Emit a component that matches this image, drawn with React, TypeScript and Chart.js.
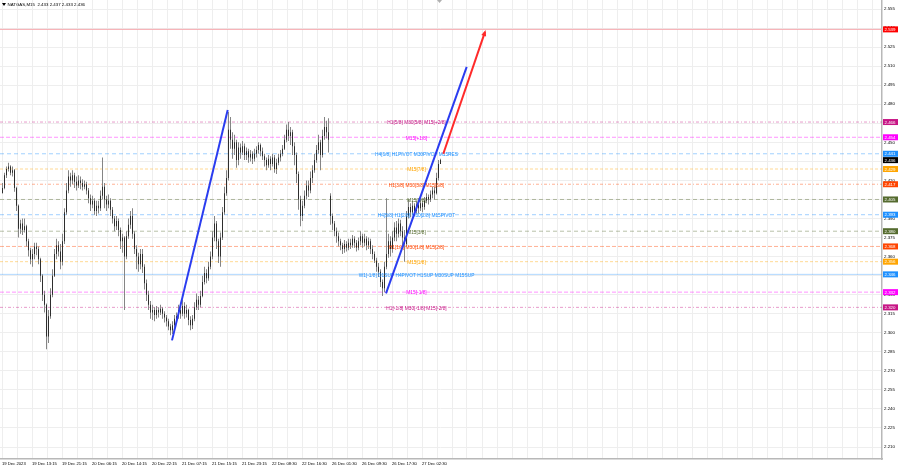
import React, { useEffect, useRef } from 'react';
import { Chart, registerables } from 'chart.js';

Chart.register(...registerables);

// NATGAS M15 candles, oldest first
const opens = [
  2.410, 2.414, 2.424, 2.429, 2.431, 2.426, 2.428, 2.414, 2.400, 2.382,
  2.386, 2.381, 2.384, 2.372, 2.365, 2.358, 2.362, 2.368, 2.366, 2.358,
  2.345, 2.330, 2.322, 2.297, 2.313, 2.330, 2.345, 2.362, 2.369, 2.364,
  2.356, 2.372, 2.395, 2.412, 2.423, 2.420, 2.424, 2.419, 2.416, 2.420,
  2.418, 2.415, 2.417, 2.412, 2.406, 2.401, 2.404, 2.396, 2.400, 2.398,
  2.408, 2.415, 2.405, 2.401, 2.404, 2.397, 2.390, 2.384, 2.388, 2.381,
  2.372, 2.375, 2.360, 2.376, 2.385, 2.392, 2.378, 2.366, 2.360, 2.354,
  2.362, 2.352, 2.339, 2.330, 2.322, 2.316, 2.318, 2.314, 2.318, 2.316,
  2.319, 2.315, 2.312, 2.309, 2.305, 2.302, 2.306, 2.311, 2.313, 2.318,
  2.315, 2.321, 2.315, 2.318, 2.310, 2.306, 2.311, 2.320, 2.326, 2.322,
  2.329, 2.340, 2.347, 2.343, 2.352, 2.360, 2.375, 2.386, 2.372, 2.360,
  2.375, 2.395, 2.410, 2.422, 2.460, 2.452, 2.445, 2.450, 2.436, 2.446,
  2.442, 2.447, 2.440, 2.443, 2.438, 2.441, 2.437, 2.441, 2.444, 2.448,
  2.443, 2.439, 2.436, 2.432, 2.437, 2.433, 2.438, 2.429, 2.434, 2.438,
  2.441, 2.445, 2.452, 2.460, 2.455, 2.458, 2.447, 2.440, 2.425, 2.405,
  2.392, 2.400, 2.408, 2.416, 2.412, 2.422, 2.428, 2.436, 2.444, 2.450,
  2.440, 2.455, 2.462, 2.458, 2.408, 2.392, 2.386, 2.380, 2.376, 2.372,
  2.369, 2.366, 2.370, 2.367, 2.371, 2.369, 2.374, 2.371, 2.367, 2.372,
  2.376, 2.371, 2.374, 2.369, 2.372, 2.366, 2.362, 2.357, 2.352, 2.348,
  2.340, 2.335, 2.352, 2.362, 2.372, 2.366, 2.375, 2.383, 2.378, 2.386,
  2.380, 2.375, 2.370, 2.392, 2.399, 2.395, 2.400, 2.396, 2.401, 2.398,
  2.402, 2.399, 2.404, 2.407, 2.405, 2.409, 2.412, 2.410, 2.422, 2.433,
];
const highs = [
  2.418, 2.426, 2.431, 2.434, 2.432, 2.431, 2.429, 2.415, 2.401, 2.389,
  2.390, 2.390, 2.385, 2.374, 2.367, 2.366, 2.371, 2.371, 2.368, 2.359,
  2.346, 2.333, 2.323, 2.318, 2.335, 2.350, 2.366, 2.374, 2.372, 2.370,
  2.378, 2.398, 2.418, 2.428, 2.426, 2.428, 2.426, 2.423, 2.424, 2.423,
  2.421, 2.420, 2.419, 2.414, 2.409, 2.408, 2.406, 2.404, 2.404, 2.412,
  2.438, 2.418, 2.408, 2.409, 2.406, 2.399, 2.392, 2.392, 2.390, 2.383,
  2.378, 2.376, 2.380, 2.390, 2.396, 2.398, 2.380, 2.369, 2.363, 2.366,
  2.366, 2.354, 2.342, 2.333, 2.325, 2.322, 2.320, 2.321, 2.320, 2.322,
  2.320, 2.317, 2.314, 2.311, 2.307, 2.309, 2.314, 2.316, 2.322, 2.320,
  2.326, 2.324, 2.322, 2.319, 2.313, 2.314, 2.324, 2.331, 2.329, 2.333,
  2.345, 2.352, 2.350, 2.356, 2.364, 2.380, 2.392, 2.388, 2.374, 2.379,
  2.399, 2.415, 2.428, 2.474, 2.470, 2.458, 2.456, 2.452, 2.450, 2.449,
  2.451, 2.449, 2.446, 2.445, 2.444, 2.443, 2.445, 2.447, 2.450, 2.449,
  2.446, 2.441, 2.438, 2.440, 2.439, 2.441, 2.440, 2.437, 2.441, 2.444,
  2.448, 2.456, 2.464, 2.466, 2.462, 2.460, 2.450, 2.442, 2.427, 2.408,
  2.404, 2.412, 2.420, 2.420, 2.427, 2.432, 2.441, 2.448, 2.456, 2.452,
  2.460, 2.470, 2.467, 2.469, 2.410, 2.394, 2.388, 2.383, 2.379, 2.374,
  2.371, 2.373, 2.372, 2.374, 2.374, 2.377, 2.376, 2.373, 2.375, 2.380,
  2.378, 2.378, 2.376, 2.375, 2.374, 2.369, 2.364, 2.359, 2.355, 2.350,
  2.342, 2.356, 2.406, 2.378, 2.376, 2.380, 2.387, 2.388, 2.390, 2.389,
  2.384, 2.381, 2.396, 2.405, 2.402, 2.404, 2.402, 2.404, 2.403, 2.406,
  2.404, 2.407, 2.410, 2.409, 2.412, 2.415, 2.415, 2.426, 2.436, 2.437,
];
const lows = [
  2.410, 2.413, 2.422, 2.427, 2.424, 2.423, 2.411, 2.396, 2.375, 2.378,
  2.377, 2.379, 2.368, 2.360, 2.354, 2.352, 2.358, 2.361, 2.354, 2.340,
  2.325, 2.316, 2.287, 2.292, 2.311, 2.328, 2.344, 2.358, 2.360, 2.350,
  2.353, 2.370, 2.393, 2.410, 2.415, 2.417, 2.414, 2.412, 2.414, 2.413,
  2.412, 2.413, 2.409, 2.402, 2.396, 2.398, 2.393, 2.392, 2.394, 2.396,
  2.405, 2.398, 2.396, 2.398, 2.392, 2.386, 2.380, 2.381, 2.376, 2.366,
  2.363, 2.318, 2.358, 2.374, 2.382, 2.374, 2.362, 2.350, 2.348, 2.350,
  2.347, 2.334, 2.325, 2.318, 2.311, 2.310, 2.309, 2.311, 2.312, 2.314,
  2.311, 2.308, 2.305, 2.302, 2.298, 2.299, 2.304, 2.307, 2.311, 2.311,
  2.313, 2.311, 2.312, 2.306, 2.302, 2.303, 2.309, 2.318, 2.318, 2.320,
  2.328, 2.338, 2.339, 2.341, 2.350, 2.358, 2.372, 2.366, 2.355, 2.352,
  2.373, 2.393, 2.408, 2.420, 2.445, 2.437, 2.440, 2.430, 2.432, 2.437,
  2.440, 2.436, 2.436, 2.434, 2.435, 2.433, 2.435, 2.438, 2.441, 2.439,
  2.436, 2.431, 2.428, 2.430, 2.428, 2.431, 2.426, 2.425, 2.432, 2.435,
  2.439, 2.444, 2.450, 2.451, 2.448, 2.440, 2.432, 2.418, 2.397, 2.384,
  2.388, 2.398, 2.405, 2.407, 2.410, 2.418, 2.426, 2.434, 2.441, 2.428,
  2.438, 2.452, 2.453, 2.442, 2.385, 2.381, 2.376, 2.371, 2.368, 2.365,
  2.362, 2.363, 2.364, 2.365, 2.366, 2.367, 2.367, 2.364, 2.365, 2.369,
  2.367, 2.368, 2.365, 2.366, 2.362, 2.358, 2.355, 2.348, 2.344, 2.336,
  2.329, 2.332, 2.350, 2.359, 2.360, 2.363, 2.372, 2.372, 2.375, 2.376,
  2.369, 2.356, 2.368, 2.390, 2.391, 2.393, 2.392, 2.394, 2.394, 2.396,
  2.395, 2.397, 2.402, 2.401, 2.403, 2.406, 2.405, 2.409, 2.420, 2.433,
];
const closes = [
  2.414, 2.424, 2.429, 2.431, 2.426, 2.428, 2.414, 2.400, 2.382, 2.386,
  2.381, 2.384, 2.372, 2.365, 2.358, 2.362, 2.368, 2.366, 2.358, 2.345,
  2.330, 2.322, 2.297, 2.313, 2.330, 2.345, 2.362, 2.369, 2.364, 2.356,
  2.372, 2.395, 2.412, 2.423, 2.420, 2.424, 2.419, 2.416, 2.420, 2.418,
  2.415, 2.417, 2.412, 2.406, 2.401, 2.404, 2.396, 2.400, 2.398, 2.408,
  2.415, 2.405, 2.401, 2.404, 2.397, 2.390, 2.384, 2.388, 2.381, 2.372,
  2.375, 2.360, 2.376, 2.385, 2.392, 2.378, 2.366, 2.360, 2.354, 2.362,
  2.352, 2.339, 2.330, 2.322, 2.316, 2.318, 2.314, 2.318, 2.316, 2.319,
  2.315, 2.312, 2.309, 2.305, 2.302, 2.306, 2.311, 2.313, 2.318, 2.315,
  2.321, 2.315, 2.318, 2.310, 2.306, 2.311, 2.320, 2.326, 2.322, 2.329,
  2.340, 2.347, 2.343, 2.352, 2.360, 2.375, 2.386, 2.372, 2.360, 2.375,
  2.395, 2.410, 2.422, 2.460, 2.452, 2.445, 2.450, 2.436, 2.446, 2.442,
  2.447, 2.440, 2.443, 2.438, 2.441, 2.437, 2.441, 2.444, 2.448, 2.443,
  2.439, 2.436, 2.432, 2.437, 2.433, 2.438, 2.429, 2.434, 2.438, 2.441,
  2.445, 2.452, 2.460, 2.455, 2.458, 2.447, 2.440, 2.425, 2.405, 2.392,
  2.400, 2.408, 2.416, 2.412, 2.422, 2.428, 2.436, 2.444, 2.450, 2.440,
  2.455, 2.462, 2.458, 2.452, 2.392, 2.386, 2.380, 2.376, 2.372, 2.369,
  2.366, 2.370, 2.367, 2.371, 2.369, 2.374, 2.371, 2.367, 2.372, 2.376,
  2.371, 2.374, 2.369, 2.372, 2.366, 2.362, 2.357, 2.352, 2.348, 2.340,
  2.335, 2.352, 2.362, 2.372, 2.366, 2.375, 2.383, 2.378, 2.386, 2.380,
  2.375, 2.370, 2.392, 2.399, 2.395, 2.400, 2.396, 2.401, 2.398, 2.402,
  2.399, 2.404, 2.407, 2.405, 2.409, 2.412, 2.410, 2.422, 2.433, 2.436,
];

const timeLabels = [
  '19 Dec 2023', '19 Dec 13:15', '19 Dec 21:15', '20 Dec 06:15', '20 Dec 14:15',
  '20 Dec 22:15', '21 Dec 07:15', '21 Dec 15:15', '21 Dec 23:15', '22 Dec 08:30',
  '22 Dec 16:30', '26 Dec 01:30', '26 Dec 09:30', '26 Dec 17:30', '27 Dec 02:30',
];

const priceTicks = [
  2.210, 2.225, 2.240, 2.255, 2.270, 2.285, 2.300, 2.315, 2.330, 2.345, 2.360, 2.375,
  2.390, 2.405, 2.420, 2.435, 2.450, 2.465, 2.480, 2.495, 2.510, 2.525, 2.540, 2.555,
];

// Murrey math / pivot levels
const levelPrices = [2.539, 2.466, 2.454, 2.441, 2.429, 2.417, 2.405, 2.393, 2.380, 2.368, 2.356, 2.346, 2.332, 2.320];
const levelNames = [
  '',
  'H1[5/8] M30[5/8] M15[+2/8]',
  'M15[+1/8]',
  'H4[6/8] H1PIVOT M30PIVOT M15RES',
  'M15[7/8]',
  'H1[3/8] M30[3/8] M15[6/8]',
  'M15[5/8]',
  'H4[5/8] H1[2/8] M30[2/8] M15PIVOT',
  'M15[3/8]',
  'H1[1/8] M30[1/8] M15[2/8]',
  'M15[1/8]',
  'W1[-1/8] D1SUP H4PIVOT H1SUP M30SUP M15SUP',
  'M15[-1/8]',
  'H1[-1/8] M30[-1/8] M15[-2/8]',
];

// trend lines: bar index and price at both ends
const swingBars = [84.75, 112.6];
const swingPrices = [2.294, 2.4755];
const channelBars = [191.75, 232.1];
const channelPrices = [2.331, 2.5095];
const targetBars = [220.4, 241.25];
const targetPrices = [2.441, 2.537];

const symbol = 'NATGAS,M15';

// ---- appearance ----
const X_MIN = -1.25;
const X_MAX = 439.75;
const Y_MIN = 2.20055;
const Y_MAX = 2.56214;
const LABEL_BAR = 207;
const SHIFT_BAR = 218.5;
const FONT = '"Liberation Sans", Arial, sans-serif';

const LEVEL_COLORS = ['#ff0000', '#c71585', '#ff00ff', '#1e90ff', '#ffa500', '#ff4500', '#556b2f',
  '#1e90ff', '#556b2f', '#ff4500', '#ffa500', '#1e90ff', '#ff00ff', '#c71585'];
const LEVEL_DASH = [[], [3, 2, 1, 2], [4, 2], [4, 3], [3, 2], [3, 2, 1, 2], [4, 3],
  [4, 3], [4, 3], [4, 2], [3, 2], [], [4, 2], [3, 2, 1, 2]];

function rgba(hex: string, a: number) {
  const n = parseInt(hex.slice(1), 16);
  return `rgba(${(n >> 16) & 255},${(n >> 8) & 255},${n & 255},${a})`;
}

const overlay = {
  id: 'mtOverlay',
  afterDatasetDraw(chart: any, args: any) {
    if (chart.data.datasets[args.index].label !== 'bodies') return;
    const { ctx, scales } = chart;
    const x = scales.x, y = scales.y;
    ctx.save();
    ctx.font = `4.8px ${FONT}`;
    ctx.textAlign = 'center';
    ctx.textBaseline = 'middle';
    levelPrices.forEach((p, i) => {
      if (!levelNames[i]) return;
      ctx.fillStyle = LEVEL_COLORS[i];
      ctx.fillText(levelNames[i], x.getPixelForValue(LABEL_BAR), y.getPixelForValue(p) + 1);
    });
    ctx.restore();
  },
  afterDatasetsDraw(chart: any) {
    const { ctx, scales } = chart;
    const x = scales.x, y = scales.y;
    const x0 = x.getPixelForValue(targetBars[0]), y0 = y.getPixelForValue(targetPrices[0]);
    const x1 = x.getPixelForValue(targetBars[1]), y1 = y.getPixelForValue(targetPrices[1]);
    const a = Math.atan2(y1 - y0, x1 - x0);
    const c = Math.cos(a), s = Math.sin(a);
    const tx = x1 + c * 2, ty = y1 + s * 2;
    const bx = tx - c * 6, by = ty - s * 6;
    ctx.save();
    ctx.fillStyle = '#ff2a2a';
    ctx.beginPath();
    ctx.moveTo(tx, ty);
    ctx.lineTo(bx - s * 2.5, by + c * 2.5);
    ctx.lineTo(bx + s * 2.5, by - c * 2.5);
    ctx.closePath();
    ctx.fill();
    ctx.restore();
  },
  afterDraw(chart: any) {
    const { ctx, scales, chartArea } = chart;
    const x = scales.x, y = scales.y;
    ctx.save();
    ctx.font = `4.4px ${FONT}`;
    ctx.textBaseline = 'middle';
    ctx.textAlign = 'left';
    const box = (price: number, color: string) => {
      const py = y.getPixelForValue(price);
      ctx.fillStyle = color;
      ctx.fillRect(chartArea.right + 1, py - 3, 15, 6);
      ctx.fillStyle = '#ffffff';
      ctx.fillText(price.toFixed(3), chartArea.right + 2.5, py + 0.3);
    };
    levelPrices.forEach((p, i) => box(p, LEVEL_COLORS[i]));
    const last = closes.length - 1;
    box(closes[last], '#000000');

    // symbol header
    ctx.fillStyle = '#000';
    ctx.beginPath();
    ctx.moveTo(2, 3);
    ctx.lineTo(6, 3);
    ctx.lineTo(4, 6);
    ctx.closePath();
    ctx.fill();
    const head = `${symbol}  ${opens[last].toFixed(3)} ${highs[last].toFixed(3)} ${lows[last].toFixed(3)} ${closes[last].toFixed(3)}`;
    ctx.fillText(head, 7.5, 5);

    // chart shift marker
    const sx = x.getPixelForValue(SHIFT_BAR);
    ctx.fillStyle = '#b0b0b0';
    ctx.beginPath();
    ctx.moveTo(sx - 2.5, 0);
    ctx.lineTo(sx + 2.5, 0);
    ctx.lineTo(sx, 3);
    ctx.closePath();
    ctx.fill();
    ctx.restore();
  },
};

export default function App() {
  const ref = useRef<HTMLCanvasElement>(null);

  useEffect(() => {
    document.body.style.margin = '0';
    const canvas = ref.current;
    if (!canvas) return;

    const wicks = lows.map((l, i) => ({ x: i, y: [l, highs[i]] }));
    const bodies = opens.map((o, i) => ({ x: i, y: [o, closes[i]] }));
    const line = (bars: number[], prices: number[]) => bars.map((b, i) => ({ x: b, y: prices[i] }));

    const levelSets = levelPrices.map((p, i) => ({
      type: 'line' as const,
      label: `level ${p}`,
      data: [{ x: X_MIN, y: p }, { x: X_MAX, y: p }],
      borderColor: i === 0 ? '#f6a8ae' : rgba(LEVEL_COLORS[i], i === 11 ? 0.35 : 0.42),
      borderWidth: 1,
      borderDash: LEVEL_DASH[i],
      pointRadius: 0,
      order: 3,
    }));

    const trend = (label: string, bars: number[], prices: number[], color: string) => ({
      type: 'line' as const,
      label,
      data: line(bars, prices),
      borderColor: color,
      borderWidth: 2,
      pointRadius: 0,
      order: 0,
    });

    const chart = new Chart(canvas, {
      type: 'bar',
      data: {
        datasets: [
          trend('swing', swingBars, swingPrices, '#2a3cf0'),
          trend('channel', channelBars, channelPrices, '#2a3cf0'),
          trend('target', targetBars, targetPrices, '#ff2a2a'),
          {
            type: 'bar',
            label: 'bodies',
            data: bodies as any,
            backgroundColor: '#2e2e2e',
            barThickness: 1,
            minBarLength: 1,
            grouped: false,
            inflateAmount: 0,
            order: 1,
          },
          {
            type: 'bar',
            label: 'wicks',
            data: wicks as any,
            backgroundColor: '#858585',
            barThickness: 1,
            grouped: false,
            inflateAmount: 0,
            order: 2,
          },
          ...levelSets,
        ] as any,
      },
      options: {
        responsive: false,
        animation: false,
        devicePixelRatio: 1,
        layout: { padding: 0 },
        plugins: { legend: { display: false }, tooltip: { enabled: false }, title: { display: false } },
        scales: {
          x: {
            type: 'linear',
            min: X_MIN,
            max: X_MAX,
            offset: false,
            grid: { color: '#eeeeee', drawTicks: false, offset: false },
            border: { color: '#b8b8b8', width: 1.5 },
            afterBuildTicks: (scale: any) => {
              const t = [];
              for (let k = 0; -0.25 + 7.5 * k <= X_MAX; k++) t.push({ value: -0.25 + 7.5 * k });
              scale.ticks = t;
            },
            afterFit: (scale: any) => {
              scale.height = 9;
              scale.paddingLeft = 0;
              scale.paddingRight = 0;
            },
            ticks: {
              autoSkip: false,
              maxRotation: 0,
              minRotation: 0,
              align: 'start',
              padding: 2,
              color: '#000',
              font: { size: 4.2, family: FONT },
              callback: (_v: any, i: number) => (i % 2 === 0 && timeLabels[i / 2]) ? timeLabels[i / 2] : '',
            },
          },
          y: {
            type: 'linear',
            position: 'right',
            min: Y_MIN,
            max: Y_MAX,
            grid: { color: '#eeeeee', drawTicks: false },
            border: { color: '#b8b8b8', width: 1.5 },
            afterBuildTicks: (scale: any) => {
              scale.ticks = priceTicks.map((v) => ({ value: v }));
            },
            afterFit: (scale: any) => {
              scale.width = 18;
              scale.paddingTop = 0;
              scale.paddingBottom = 0;
            },
            ticks: {
              autoSkip: false,
              padding: 2,
              color: '#000',
              font: { size: 4.4, family: FONT },
              callback: (v: any) => Number(v).toFixed(3),
            },
          },
        },
      },
      plugins: [overlay],
    } as any);

    return () => chart.destroy();
  }, []);

  return (
    <div style={{ width: 900, height: 468, background: '#ffffff' }}>
      <canvas ref={ref} width={900} height={468} style={{ display: 'block' }} />
    </div>
  );
}
